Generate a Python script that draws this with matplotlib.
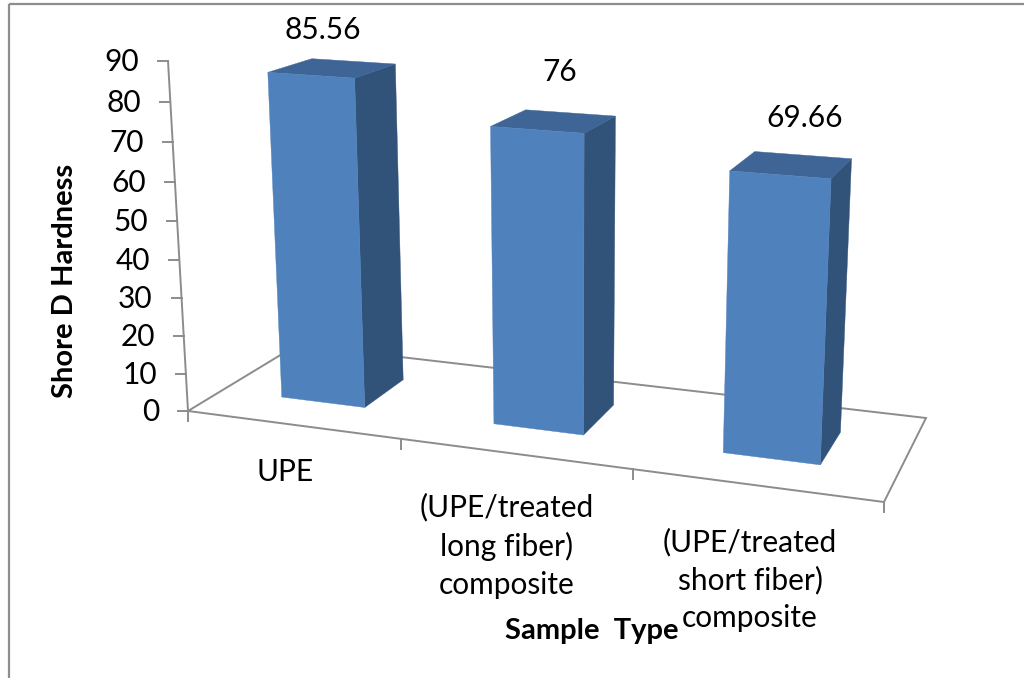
import numpy as np
import matplotlib
matplotlib.use('Agg')
import matplotlib.pyplot as plt
from matplotlib.patches import Polygon

plt.rcParams['font.family'] = ['Lato', 'DejaVu Sans']

categories = ['UPE', '(UPE/treated\nlong fiber)\ncomposite', '(UPE/treated\nshort fiber)\ncomposite']
hardness = [85.56, 76, 69.66]
value_labels = ['85.56', '76', '69.66']
y_ticks = [0, 10, 20, 30, 40, 50, 60, 70, 80, 90]

# pixel corners of the floor, front left / front right / back right / back left
floor_px = np.array([[188, 411], [884, 502], [926, 418], [297, 345]], dtype=float)
vanish = np.array([570.0, 7100.0, 1.0])   # where the vertical edges meet
axis_top = (168.0, 61.0)

bar_w = 0.4
bar_off = 0.29
z0, z1 = 0.3, 0.7

front_col = '#4F81BD'
top_col = '#3E6595'
side_col = '#325379'
line_col = '#8C8C8C'
fsize = 21.5
bold_size = 21


def floor_homography(px):
    world = [(0, 0), (3, 0), (3, 1), (0, 1)]
    A, b = [], []
    for (X, Z), (u, v) in zip(world, px):
        A.append([X, Z, 1, 0, 0, 0, -u * X, -u * Z])
        A.append([0, 0, 0, X, Z, 1, -v * X, -v * Z])
        b += [u, v]
    h = np.linalg.solve(np.array(A), np.array(b))
    return np.append(h, 1).reshape(3, 3)


H = floor_homography(floor_px)
# scale of the value axis so that 90 lands on the top of the axis line
t = (axis_top[1] - floor_px[0, 1]) / (vanish[1] - axis_top[1]) / 90


def proj(X, Z, val):
    p = H @ np.array([X, Z, 1.0]) + val * t * vanish
    return p[0] / p[2], p[1] / p[2]


fig = plt.figure(figsize=(10.24, 6.78), dpi=100)
ax = fig.add_axes([0, 0, 1, 1])
ax.set_xlim(0, 1024)
ax.set_ylim(678, 0)
ax.axis('off')

# outer frame, only top and left
ax.plot([9, 1024], [4, 4], color='#8E8E8E', lw=1.6, solid_capstyle='butt')
ax.plot([9, 9], [4, 678], color='#8E8E8E', lw=1.6, solid_capstyle='butt')

# floor
corners = [proj(0, 0, 0), proj(3, 0, 0), proj(3, 1, 0), proj(0, 1, 0), proj(0, 0, 0)]
ax.plot(*zip(*corners), color=line_col, lw=1.4, solid_joinstyle='miter')

# value axis
ax.plot(*zip(proj(0, 0, 0), proj(0, 0, y_ticks[-1])), color=line_col, lw=1.4)
for v in y_ticks:
    x, y = proj(0, 0, v)
    ax.plot([x - 10, x], [y, y], color=line_col, lw=1.4)
    ax.text(x - 29, y + 1, str(v), ha='right', va='center', fontsize=fsize, color='black')

# category ticks
for i in range(len(categories) + 1):
    x, y = proj(i, 0, 0)
    ax.plot([x, x], [y, y + 10], color=line_col, lw=1.4)

# bars, on top of the floor lines
for i, val in enumerate(hardness):
    xa, xb = i + bar_off, i + bar_off + bar_w
    front = [proj(xa, z0, 0), proj(xb, z0, 0), proj(xb, z0, val), proj(xa, z0, val)]
    side = [proj(xb, z0, 0), proj(xb, z1, 0), proj(xb, z1, val), proj(xb, z0, val)]
    top = [proj(xa, z0, val), proj(xb, z0, val), proj(xb, z1, val), proj(xa, z1, val)]
    ax.add_patch(Polygon(side, closed=True, fc=side_col, ec=side_col, lw=0.3, zorder=3))
    ax.add_patch(Polygon(top, closed=True, fc=top_col, ec=top_col, lw=0.3, zorder=3))
    ax.add_patch(Polygon(front, closed=True, fc=front_col, ec=front_col, lw=0.3, zorder=3))

# value labels above the bars, moved by hand in the original
label_off = [(-10, -38), (6, -49), (13, -47)]
for i, lab in enumerate(value_labels):
    x, y = proj(i + bar_off + bar_w / 2, 0.5, hardness[i])
    ax.text(x + label_off[i][0], y + label_off[i][1], lab, ha='center', va='center',
            fontsize=fsize, color='black')

# category labels (word-wrapped, placed by hand like in the original)
cat_xy = [(285, 472), (507, 546), (750, 580)]
for (x, y), lab in zip(cat_xy, categories):
    ax.text(x, y, lab, ha='center', va='center', fontsize=fsize, color='black', linespacing=1.42)

ax.text(65, 281, 'Shore D Hardness', rotation=90, ha='center', va='center',
        fontsize=bold_size, fontweight='bold', color='black')
ax.text(592, 631, 'Sample  Type', ha='center', va='center',
        fontsize=bold_size, fontweight='bold', color='black')

fig.savefig('out.png', dpi=100)
